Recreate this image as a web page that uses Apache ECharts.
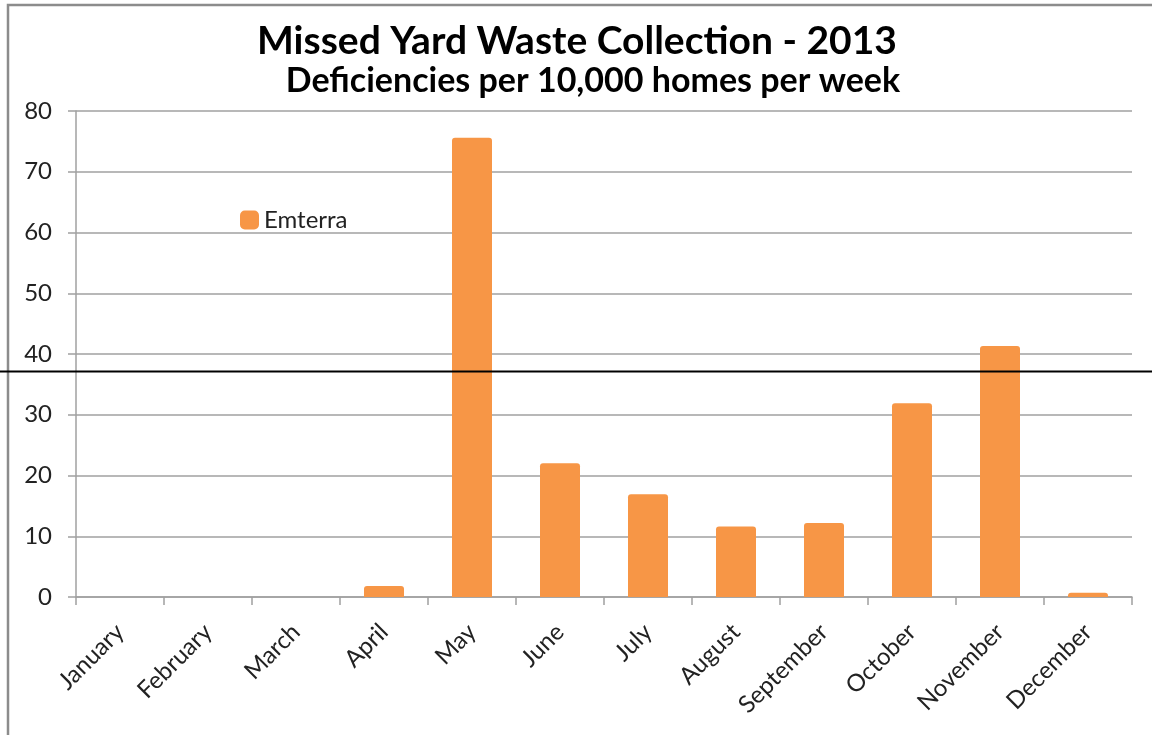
<!DOCTYPE html>
<html>
<head>
<meta charset="utf-8">
<script src="https://cdn.jsdelivr.net/npm/echarts@6/dist/echarts.min.js"></script>
<style>
html,body{margin:0;padding:0;background:#fff;}
#c{width:1152px;height:735px;}
</style>
</head>
<body>
<div id="c"></div>
<script>
const categories = ["January","February","March","April","May","June","July","August","September","October","November","December"];
const emterraValues = [0, 0, 0, 1.8, 75.6, 22, 16.9, 11.6, 12.2, 31.9, 41.3, 0.7];
const yTicks = [0, 10, 20, 30, 40, 50, 60, 70, 80];
const thresholdValue = 37.1;
const titleText = "Missed Yard Waste Collection - 2013";
const subtitleText = "Deficiencies per 10,000 homes per week";
const seriesName = "Emterra";

const FONT = "Lato, 'Open Sans', sans-serif";
const chart = echarts.init(document.getElementById('c'), null, {renderer: 'canvas'});
const option = {
  animation: false,
  backgroundColor: '#fff',
  textStyle: {fontFamily: FONT},
  title: [
    {text: titleText, left: 572, top: 17, textAlign: 'center',
     textStyle: {fontSize: 39, fontWeight: 'bold', color: '#000', fontFamily: FONT}},
    {text: subtitleText, left: 588, top: 59, textAlign: 'center',
     textStyle: {fontSize: 34, fontWeight: 'bold', color: '#000', fontFamily: FONT}}
  ],
  legend: {
    data: [seriesName], left: 235, top: 203, itemWidth: 19, itemHeight: 19, itemGap: 6,
    textStyle: {fontSize: 24, color: '#222', fontFamily: FONT}
  },
  grid: {left: 76, right: 20, top: 111, bottom: 138, containLabel: false},
  xAxis: {
    type: 'category', data: categories, boundaryGap: true,
    axisLine: {lineStyle: {color: '#a0a0a0', width: 1.5}},
    axisTick: {show: true, alignWithLabel: false, length: 8, lineStyle: {color: '#a0a0a0', width: 1.5}},
    axisLabel: {rotate: 45, fontSize: 24, color: '#222', margin: 31, interval: 0, fontFamily: FONT}
  },
  yAxis: {
    type: 'value', min: yTicks[0], max: yTicks[yTicks.length-1], interval: 10,
    axisLine: {show: true, lineStyle: {color: '#a0a0a0', width: 1.5}},
    axisTick: {show: true, length: 8, lineStyle: {color: '#a0a0a0', width: 1.5}},
    splitLine: {lineStyle: {color: '#a0a0a0', width: 1.5}},
    axisLabel: {fontSize: 24, color: '#222', margin: 24, fontFamily: FONT}
  },
  series: [{
    name: seriesName, type: 'bar', data: emterraValues, barWidth: 40,
    itemStyle: {color: '#F79646', borderRadius: [3,3,0,0]}
  }]
};
chart.setOption(option);

function drawOverlay() {
  const y = chart.convertToPixel({yAxisIndex: 0}, thresholdValue);
  chart.setOption({
    graphic: [
      {type: 'rect', shape: {x: 8, y: 5, width: 1160, height: 760},
       style: {fill: 'none', stroke: '#8c8c8c', lineWidth: 2.5}, silent: true},
      {type: 'line', shape: {x1: 0, y1: y, x2: 1152, y2: y},
       style: {stroke: '#000', lineWidth: 2}, z: 100, silent: true}
    ]
  });
}
drawOverlay();
</script>
</body>
</html>
